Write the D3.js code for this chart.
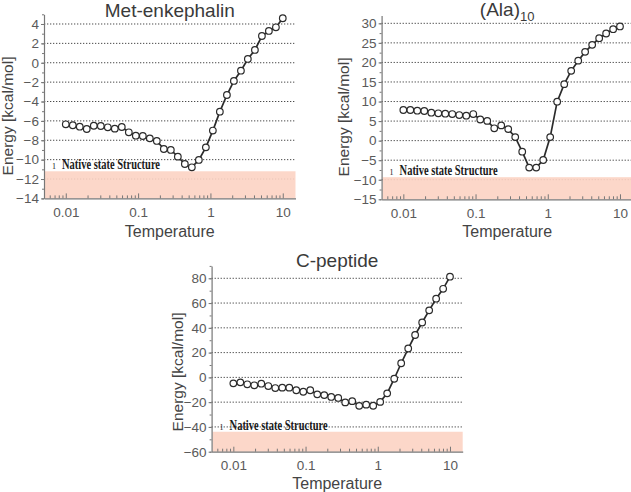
<!DOCTYPE html>
<html>
<head>
<meta charset="utf-8">
<script src="https://cdn.jsdelivr.net/npm/d3@7"></script>
<style>
  html, body { margin: 0; padding: 0; background: #fff; }
  svg { display: block; }
</style>
</head>
<body>
<svg id="chart" width="631" height="492"></svg>
<script>
// ---- data ----
const temperatures = [0.01, 0.0125, 0.0156, 0.0195, 0.0244, 0.0305, 0.0381, 0.0476, 0.0595, 0.0744,
  0.093, 0.1162, 0.1452, 0.1815, 0.2268, 0.2835, 0.3543, 0.4428, 0.5534, 0.6917,
  0.8645, 1.08, 1.35, 1.69, 2.11, 2.64, 3.29, 4.12, 5.15, 6.43, 8.04, 10];
const metEnkephalin = [-6.35, -6.45, -6.6, -6.84, -6.5, -6.53, -6.66, -6.8, -6.63, -7.18,
  -7.53, -7.56, -7.8, -8.07, -8.9, -9.0, -9.69, -10.45, -10.79, -10.03,
  -8.73, -7.0, -5.05, -3.33, -1.88, -0.82, 0.39, 1.32, 2.76, 3.28, 3.66, 4.59];
const ala10 = [7.83, 7.83, 7.66, 7.58, 7.14, 6.99, 6.89, 6.8, 6.55, 6.38,
  6.8, 5.4, 5.05, 3.15, 3.9, 2.95, 0.9, -2.83, -6.9, -6.9,
  -4.95, 0.9, 9.96, 14.45, 17.85, 20.45, 22.7, 24.5, 26.2, 27.4, 28.5, 29.2];
const cPeptide = [-4.8, -4.0, -5.6, -6.4, -5.1, -7.0, -8.6, -8.3, -8.3, -10.4,
  -11.6, -10.4, -13.7, -14.3, -15.8, -16.6, -20.2, -19.2, -23.0, -22.0,
  -22.9, -19.8, -12.9, -1.1, 11.4, 23.3, 34.2, 44.3, 54.1, 63.5, 71.5, 81.3];
const xTickValues = [0.01, 0.1, 1, 10];
const xTickLabels = ["0.01", "0.1", "1", "10"];
const titles = ["Met-enkephalin", "(Ala)", "C-peptide"];
const yTicksMet = [-14, -12, -10, -8, -6, -4, -2, 0, 2, 4];
const yTicksAla = [-15, -10, -5, 0, 5, 10, 15, 20, 25, 30];
const yTicksCpep = [-60, -40, -20, 0, 20, 40, 60, 80];
const bandTops = [-11.2, -9.35, -43.9];
const noteLabel = "Native state Structure";

// ---- layout ----
const panels = [
  { title: titles[0], values: metEnkephalin, yTicks: yTicksMet, yMinorStep: 1, yDomain: [-14, 5],
    x0: 44, x1: 295.5, yBottom: 198.4, yTop: 14.3, band: bandTops[0],
    titleY: 17, tempY: 237, energyX: 13, energyY: 116, noteY: 169 },
  { title: titles[1], sub: "10", values: ala10, yTicks: yTicksAla, yMinorStep: 2.5, yDomain: [-15, 32],
    x0: 381.6, x1: 632.7, yBottom: 199.3, yTop: 15.5, band: bandTops[1],
    titleY: 15.5, tempY: 237, energyX: 349, energyY: 117, noteY: 175 },
  { title: titles[2], values: cPeptide, yTicks: yTicksCpep, yMinorStep: 10, yDomain: [-60, 90],
    x0: 211.6, x1: 462.7, yBottom: 451.7, yTop: 265.9, band: bandTops[2],
    titleY: 267, tempY: 489, energyX: 183, energyY: 372, noteY: 430 }
];

const svg = d3.select("#chart");
const font = "'Liberation Sans', Arial, Helvetica, sans-serif";

panels.forEach(p => {
  const x = d3.scaleLog().domain([0.005, 15]).range([p.x0, p.x1]);
  const y = d3.scaleLinear().domain(p.yDomain).range([p.yBottom, p.yTop]);
  const g = svg.append("g");

  // grid lines at major ticks (excluding the bottom one)
  const gridVals = p.yTicks.filter(v => v > p.yDomain[0]);
  g.selectAll("line.grid").data(gridVals).enter().append("line")
    .attr("x1", p.x0).attr("x2", p.x1)
    .attr("y1", d => y(d)).attr("y2", d => y(d))
    .attr("stroke", "#4a4a4a").attr("stroke-width", 1)
    .attr("stroke-dasharray", "1.3,1.7");

  // shaded band
  g.append("rect")
    .attr("x", p.x0 + 1).attr("width", p.x1 - p.x0 - 1)
    .attr("y", y(p.band)).attr("height", y(p.yDomain[0]) - y(p.band))
    .attr("fill", "#fcd3c3").attr("fill-opacity", 0.9);

  // y axis
  const yMinor = d3.range(p.yDomain[0], p.yDomain[1] + 1e-9, p.yMinorStep);
  g.append("g").attr("transform", `translate(${p.x0},0)`)
    .call(d3.axisLeft(y).tickValues(yMinor).tickSize(2).tickFormat(""))
    .call(a => a.select(".domain").remove())
    .selectAll("line").attr("stroke", "#777");
  const ya = g.append("g").attr("transform", `translate(${p.x0},0)`)
    .call(d3.axisLeft(y).tickValues(p.yTicks).tickSize(3).tickPadding(2).tickSizeOuter(0).tickFormat(d3.format("d")));
  ya.select(".domain").attr("stroke", "#777").attr("stroke-width", 1.2);
  ya.selectAll("line").attr("stroke", "#777");
  ya.selectAll("text").attr("fill", "#5a5a5a").style("font-family", font).style("font-size", "13.5px");

  // x axis (ticks inward)
  const minorX = [];
  [0.001, 0.01, 0.1, 1].forEach(dec => { for (let m = 2; m <= 9; m++) { const v = dec * m; if (v > 0.005 && v < 15) minorX.push(v); } });
  g.append("g").attr("transform", `translate(0,${p.yBottom})`)
    .call(d3.axisBottom(x).tickValues(minorX).tickSize(-3).tickFormat(""))
    .call(a => a.select(".domain").remove())
    .selectAll("line").attr("stroke", "#777");
  const xa = g.append("g").attr("transform", `translate(0,${p.yBottom})`)
    .call(d3.axisBottom(x).tickValues(xTickValues).tickSize(-5).tickPadding(9).tickSizeOuter(0)
      .tickFormat((d, i) => xTickLabels[i]));
  xa.select(".domain").attr("stroke", "#777").attr("stroke-width", 1.2);
  xa.selectAll("line").attr("stroke", "#777");
  xa.selectAll("text").attr("fill", "#5a5a5a").style("font-family", font).style("font-size", "13.5px");

  // note label
  const xm = (p.x0 + p.x1) / 2;
  g.append("text").attr("x", p.x0 + 8).attr("y", p.noteY)
    .attr("font-family", "'Liberation Serif', serif").attr("font-size", 8).attr("fill", "#222").text("1");
  g.append("text").attr("x", p.x0 + 18).attr("y", p.noteY)
    .attr("font-family", "'Liberation Serif', serif").attr("font-weight", "bold").attr("font-size", 15)
    .attr("fill", "#1a1a1a").attr("textLength", 98).attr("lengthAdjust", "spacingAndGlyphs")
    .text(noteLabel);

  // line + markers
  const pts = temperatures.map((t, i) => [t, p.values[i]]);
  g.append("path").datum(pts)
    .attr("d", d3.line().x(d => x(d[0])).y(d => y(d[1])))
    .attr("fill", "none").attr("stroke", "#2b2b2b").attr("stroke-width", 1.7);
  g.selectAll("circle").data(pts).enter().append("circle")
    .attr("cx", d => x(d[0])).attr("cy", d => y(d[1])).attr("r", 3.3)
    .attr("fill", "#fff").attr("stroke", "#2b2b2b").attr("stroke-width", 1.2);

  // title
  const t = g.append("text").attr("x", xm).attr("y", p.titleY).attr("text-anchor", "middle")
    .attr("font-family", font).attr("font-size", 19).attr("fill", "#3a3a3a").text(p.title);
  if (p.sub) {
    t.append("tspan").attr("dy", 5).attr("font-size", 13).text(p.sub);
  }

  // axis titles
  g.append("text").attr("x", xm).attr("y", p.tempY).attr("text-anchor", "middle")
    .attr("font-family", font).attr("font-size", 16).attr("fill", "#444").text("Temperature");
  g.append("text").attr("transform", `translate(${p.energyX},${p.energyY}) rotate(-90)`)
    .attr("text-anchor", "middle")
    .attr("font-family", font).attr("font-size", 15.5).attr("fill", "#444").text("Energy [kcal/mol]");
});
</script>
</body>
</html>
